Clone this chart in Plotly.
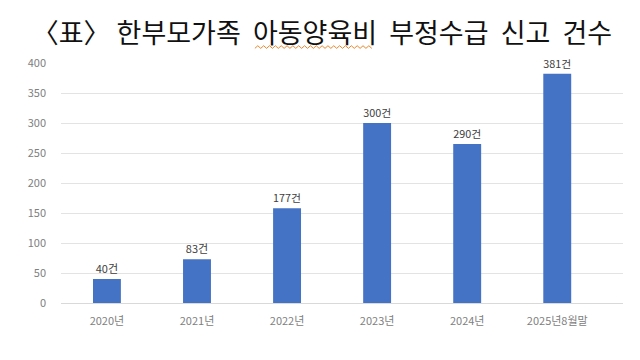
import plotly.graph_objects as go

categories = ["2020년", "2021년", "2022년", "2023년", "2024년", "2025년8월말"]
bar_values = [40, 73, 158, 300, 265, 382]
bar_labels = ["40건", "83건", "177건", "300건", "290건", "381건"]
y_ticks = [0, 50, 100, 150, 200, 250, 300, 350, 400]

title_text = "〈표〉 한부모가족  아동양육비  부정수급  신고  건수"

fig = go.Figure()
fig.add_trace(go.Bar(
    x=categories, y=bar_values,
    text=bar_labels, textposition="outside",
    textfont=dict(family="Noto Sans CJK KR", size=11, color="#404040"),
    marker=dict(color="#4472C4", line=dict(width=0)),
    width=0.31, cliponaxis=False,
))

# wavy underline under 아동양육비 (spell-check squiggle in the source)
x0, x1, n = 0.345, 0.553, 40
xs = [x0 + (x1 - x0) * i / n for i in range(n + 1)]
path = "M " + " L ".join(f"{x:.4f},{(1.0610 if i % 2 == 0 else 1.0720):.4f}" for i, x in enumerate(xs))

fig.update_layout(
    width=640, height=360,
    margin=dict(l=61, r=17, t=63, b=57),
    paper_bgcolor="white", plot_bgcolor="white",
    showlegend=False,
    font=dict(family="Noto Sans CJK KR", size=11, color="#808080"),
    title=dict(text=title_text, x=0.503, xref="container", xanchor="center",
               y=0.908, yanchor="middle",
               font=dict(family="Noto Sans CJK KR", size=27, color="#111111")),
    xaxis=dict(range=[-0.51, 5.73], showgrid=False, showline=False,
               ticks="", ticklabelstandoff=10,
               tickfont=dict(size=11, color="#808080")),
    yaxis=dict(range=[0, 400], tickvals=y_ticks, showgrid=True,
               gridcolor="#e3e3e3", gridwidth=1, zeroline=True,
               zerolinecolor="#d9d9d9", zerolinewidth=1, showline=False,
               ticks="", ticklabelstandoff=14,
               tickfont=dict(size=11, color="#808080")),
    shapes=[dict(type="path", xref="paper", yref="paper", path=path,
                 line=dict(color="#e8862a", width=1))],
)

fig.write_html("out.html")
